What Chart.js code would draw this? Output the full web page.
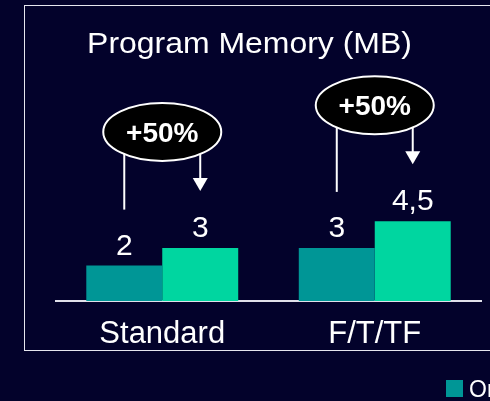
<!DOCTYPE html>
<html><head><meta charset="utf-8">
<script src="https://cdn.jsdelivr.net/npm/chart.js@4"></script>
<style>html,body{margin:0;padding:0;background:#03022b;overflow:hidden}</style>
</head><body><canvas id="c" width="490" height="401"></canvas>
<script>
const categories = ['Standard', 'F/T/TF'];
const seriesNames = ['Original', 'Optimized'];
const seriesA = [2, 3];
const seriesB = [3, 4.5];
const chartTitle = 'Program Memory (MB)';
const colorA = '#009696';
const colorB = '#00d6a0';
const BG = '#03022b';
const FONT = "'Liberation Sans', Arial, sans-serif";

const fmt = v => String(v).replace('.', ',');

const deco = {
  id: 'deco',
  beforeDraw(chart) {
    const ctx = chart.ctx;
    ctx.save();
    ctx.fillStyle = BG;
    ctx.fillRect(0, 0, chart.width, chart.height);
    ctx.strokeStyle = '#e6e6ee';
    ctx.lineWidth = 1;
    ctx.strokeRect(24.5, 5.5, 600, 345);
    ctx.restore();
  },
  afterDraw(chart) {
    const ctx = chart.ctx;
    const mA = chart.getDatasetMeta(0), mB = chart.getDatasetMeta(1);
    ctx.save();
    // title (slightly widened like the reference)
    ctx.fillStyle = '#ffffff';
    ctx.font = '30px ' + FONT;
    ctx.textAlign = 'center';
    ctx.textBaseline = 'alphabetic';
    ctx.save();
    ctx.translate(249.5, 53);
    ctx.scale(1.065, 1);
    ctx.fillText(chartTitle, 0, 0);
    ctx.restore();
    // value labels
    ctx.font = '30px ' + FONT;
    [mA, mB].forEach((m, di) => {
      const vals = chart.data.datasets[di].data;
      m.data.forEach((bar, i) => {
        ctx.fillText(fmt(vals[i]), bar.x, bar.y - 11);
      });
    });
    // annotations
    categories.forEach((c, i) => {
      const a = mA.data[i], b = mB.data[i];
      const va = seriesA[i], vb = seriesB[i];
      const cx = (a.x + b.x) / 2;
      const cy = b.y - 116;
      ctx.strokeStyle = '#ffffff';
      ctx.fillStyle = '#ffffff';
      ctx.lineWidth = 2;
      ctx.beginPath();
      ctx.moveTo(a.x, cy);
      ctx.lineTo(a.x, a.y - 56);
      ctx.stroke();
      const tip = b.y - 57;
      ctx.beginPath();
      ctx.moveTo(b.x, cy);
      ctx.lineTo(b.x, tip - 12);
      ctx.stroke();
      ctx.beginPath();
      ctx.moveTo(b.x - 7.5, tip - 13);
      ctx.lineTo(b.x + 7.5, tip - 13);
      ctx.lineTo(b.x, tip);
      ctx.closePath();
      ctx.fill();
      ctx.beginPath();
      ctx.ellipse(cx, cy, 59, 29, 0, 0, Math.PI * 2);
      ctx.fillStyle = '#000000';
      ctx.fill();
      ctx.lineWidth = 2;
      ctx.strokeStyle = '#ffffff';
      ctx.stroke();
      ctx.fillStyle = '#ffffff';
      ctx.font = 'bold 28px ' + FONT;
      const pct = Math.round((vb - va) / va * 100);
      ctx.fillText('+' + pct + '%', cx, cy + 10);
    });
    // legend (first item, cut by the window edge)
    ctx.fillStyle = chart.data.datasets[0].backgroundColor;
    ctx.fillRect(446, 380, 17, 17);
    ctx.fillStyle = '#ffffff';
    ctx.font = '23px ' + FONT;
    ctx.textAlign = 'left';
    ctx.fillText(chart.data.datasets[0].label, 469, 397);
    ctx.restore();
  }
};

new Chart(document.getElementById('c'), {
  type: 'bar',
  data: {
    labels: categories,
    datasets: [
      { label: seriesNames[0], data: seriesA, backgroundColor: colorA, borderWidth: 0 },
      { label: seriesNames[1], data: seriesB, backgroundColor: colorB, borderWidth: 0 }
    ]
  },
  options: {
    responsive: false,
    animation: false,
    devicePixelRatio: 1,
    layout: { padding: { left: 56, right: 9, top: 124, bottom: 0 } },
    plugins: { legend: { display: false }, title: { display: false }, tooltip: { enabled: false } },
    datasets: { bar: { categoryPercentage: 0.715, barPercentage: 1.0 } },
    scales: {
      x: {
        grid: { display: false, drawTicks: false },
        border: { display: true, color: '#e0e0ea', width: 2 },
        ticks: { color: '#ffffff', font: { family: FONT, size: 31 }, padding: 15 },
        afterFit(scale) { scale.height = 100; }
      },
      y: { display: false, min: 0, max: 10 }
    }
  },
  plugins: [deco]
});
</script></body></html>
